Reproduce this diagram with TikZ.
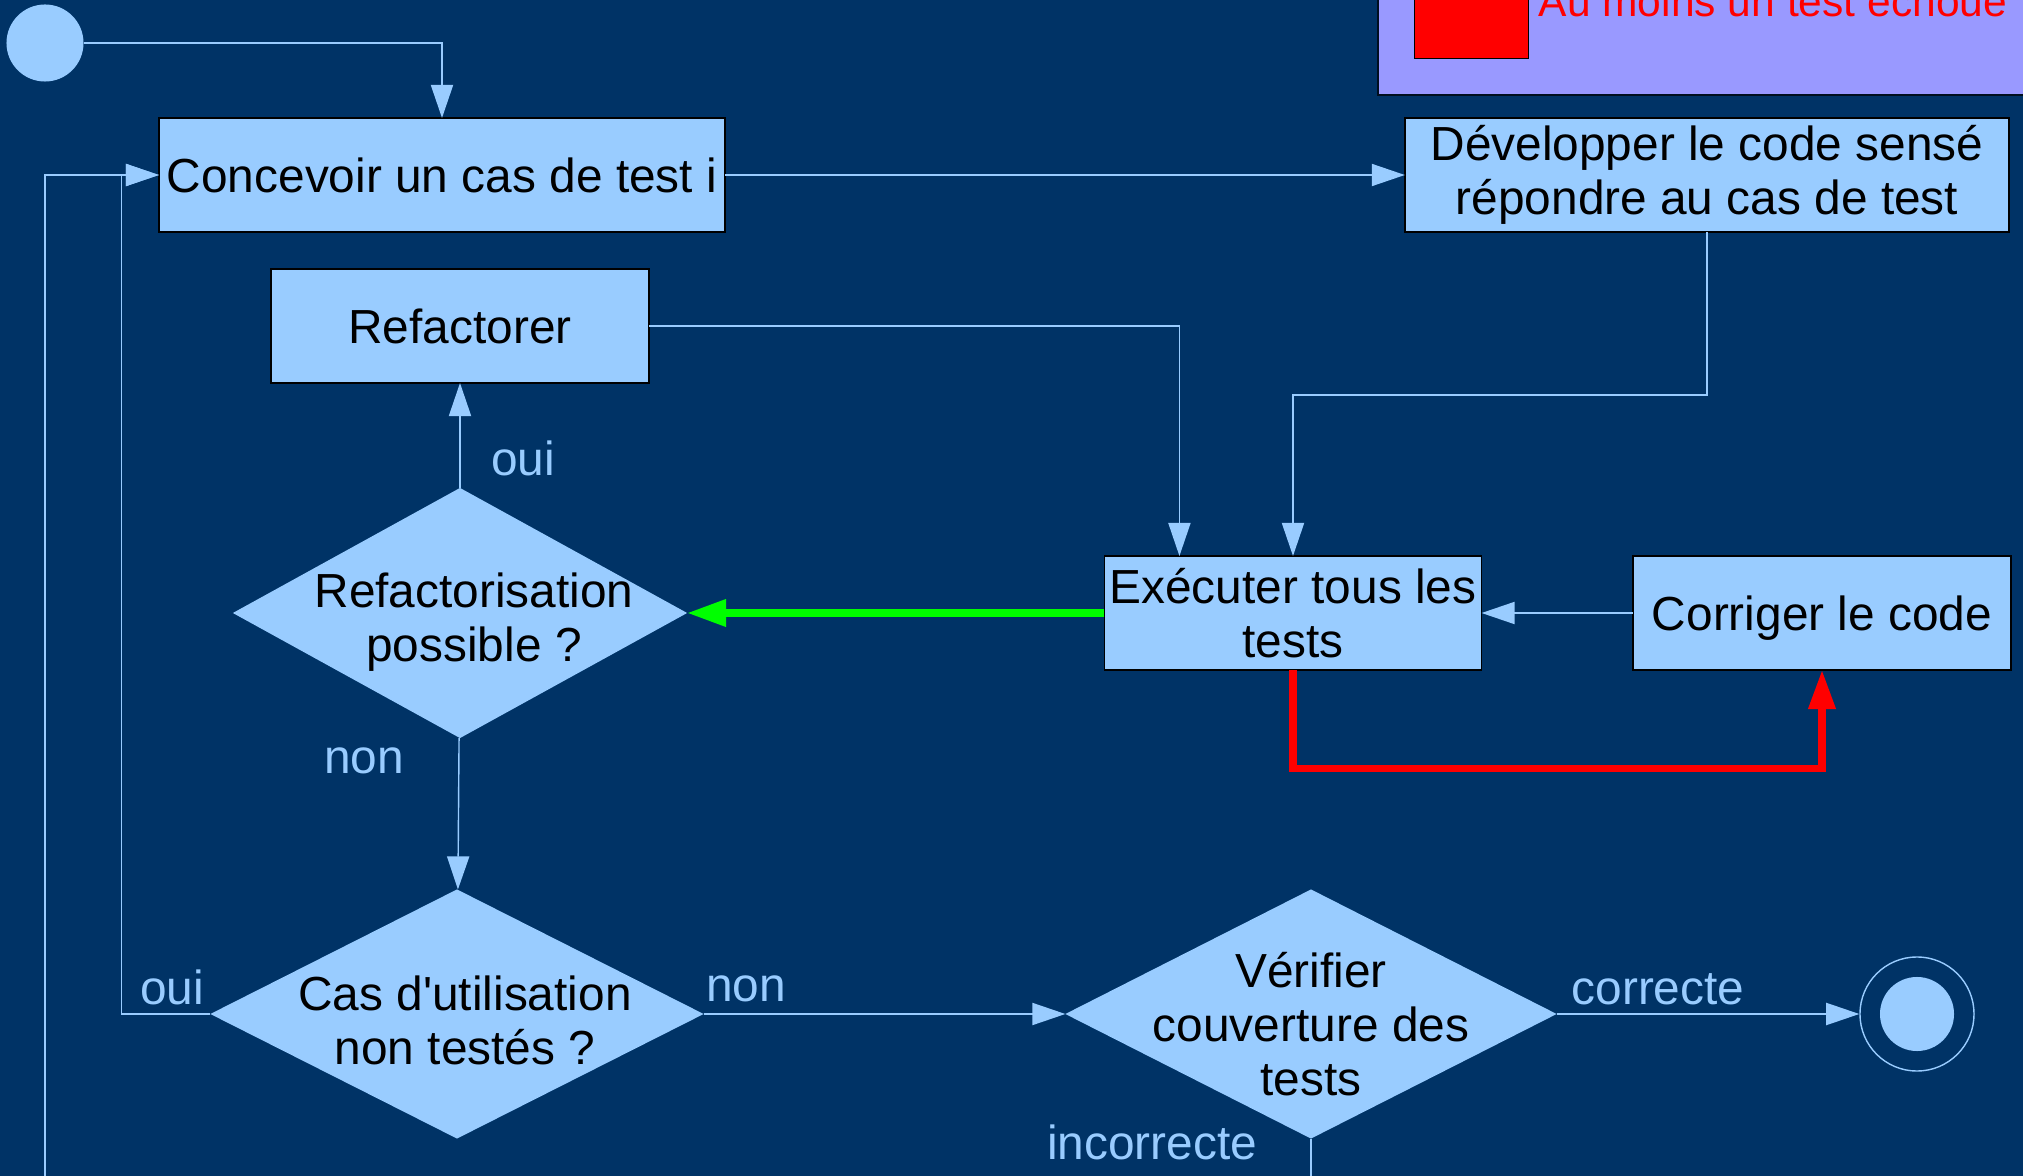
\documentclass[tikz,border=0pt]{standalone}
\usepackage{fontspec}
\setmainfont{Liberation Sans}[Ligatures=TeXOff]
\usetikzlibrary{shapes,arrows,arrows.meta,calc,positioning,backgrounds}
\definecolor{fond}{HTML}{003366}
\definecolor{bleu}{HTML}{99CCFF}
\definecolor{mauve}{HTML}{9999FF}
\definecolor{vert}{HTML}{00FF00}
\definecolor{rouge}{HTML}{FF0000}
\newcommand{\decal}[3]{\hspace*{#1}\raisebox{#2}[\height][\depth]{\begin{tabular}{@{}c@{}}#3\end{tabular}}}

\begin{document}
\begin{tikzpicture}[x=0.01cm,y=-0.01cm,
font=\fontsize{13.6pt}{15.4pt}\selectfont,
block/.style={draw=black,line width=0.4pt,fill=bleu,rectangle,minimum height=1.14cm,inner sep=1pt,align=center,outer sep=0pt},
decision/.style={rectangle,inner sep=0pt,outer sep=0pt,minimum height=2.49cm,
  path picture={\fill[bleu] (path picture bounding box.west) -- (path picture bounding box.north)
    -- (path picture bounding box.east) -- (path picture bounding box.south) -- cycle;}},
flow/.style={draw=bleu,line width=0.4pt,-{Triangle[length=9.4pt,width=6.3pt]}},
big/.style={line width=2pt,-{Triangle[length=11.1pt,width=7.4pt]}},
answer/.style={text=bleu,inner sep=1pt}]

    \useasboundingbox (0,0) rectangle (2023,1176);
    \clip (0,0) rectangle (2023,1176);
    \fill[fond] (0,0) rectangle (2023,1176);

        \node [draw=black!70!fond, line width=0.6pt, fill=mauve, minimum width=6.9cm, minimum height=1.6cm, anchor=south west] (legende) at (1377,96) {};
        \node [draw=black, line width=0.4pt, fill=rouge, minimum size=1.14cm, inner sep=0pt, anchor=south west] (carre) at (1414,59) {};
        \node [text=rouge, anchor=base west, inner sep=0pt, font=\fontsize{12.1pt}{14pt}\selectfont] (echec) at (1538,17) {Au moins un test échoué};

        \node [circle, fill=bleu, minimum size=0.77cm, inner sep=0pt] (debut) at (45,43) {};
        \node [block, minimum width=5.66cm] (concevoir) at (442,175) {Concevoir un cas de test i};
        \node [block, minimum width=6.04cm] (developper) at (1707,175) {Développer le code sensé\\répondre au cas de test};
        \node [block, minimum width=3.78cm] (refactorer) at (460,326) {Refactorer};
        \node [decision, minimum width=4.54cm, minimum height=2.5cm] (refacto) at (460,613) {\decal{0.28cm}{-0.11cm}{Refactorisation\\possible ?}};
        \node [block, minimum width=3.77cm] (executer) at (1293,613) {Exécuter tous les\\tests};
        \node [block, minimum width=3.78cm] (corriger) at (1822,613) {\raisebox{-0.05cm}[\height][\depth]{Corriger le code}};
        \node [decision, minimum width=4.93cm] (cas) at (457,1014) {\decal{0.16cm}{-0.13cm}{Cas d'utilisation\\non testés ?}};
        \node [decision, minimum width=4.91cm] (verifier) at (1311,1014) {\decal{0cm}{-0.17cm}{Vérifier\\couverture des\\tests}};
        \node [circle, draw=bleu, line width=0.4pt, minimum size=1.14cm, inner sep=0pt] (fin) at (1917,1014) {};
        \node [circle, fill=bleu, minimum size=0.74cm, inner sep=0pt] (fincoeur) at (fin) {};
        \coordinate (boucle) at (45,1240);

        \draw[flow] (debut) -| (concevoir);
        \draw[flow] (concevoir) -- (developper);
        \draw[flow] (developper.south) -- ++(0,163) -| (executer.north);
        \draw[flow] (refactorer) -| ([xshift=0.75cm]executer.north west);
        \draw[flow] (corriger) -- (executer);
        \draw[flow] (refacto) -- (refactorer);
        \draw[flow] (refacto) -- (cas);
        \draw[flow] (cas.west) -- ++(-89,0) |- (concevoir.west);
        \draw[flow] (cas) -- (verifier);
        \draw[flow] (verifier) -- (fin);
        \draw[flow] (verifier.south) |- (boucle) |- (concevoir.west);
        \draw[big, vert] (executer) -- (refacto);
        \draw[big, rouge] (executer.south) -- ++(0,98) -| (corriger.south);

        \node [answer] (ouiA) at (523,458) {oui};
        \node [answer] (nonA) at (364,761) {non};
        \node [answer] (ouiB) at (172,987) {oui};
        \node [answer] (nonB) at (746,989) {non};
        \node [answer] (correcte) at (1658,989) {correcte};
        \node [answer] (incorrecte) at (1152,1142) {incorrecte};
    \end{tikzpicture}
\end{document}
